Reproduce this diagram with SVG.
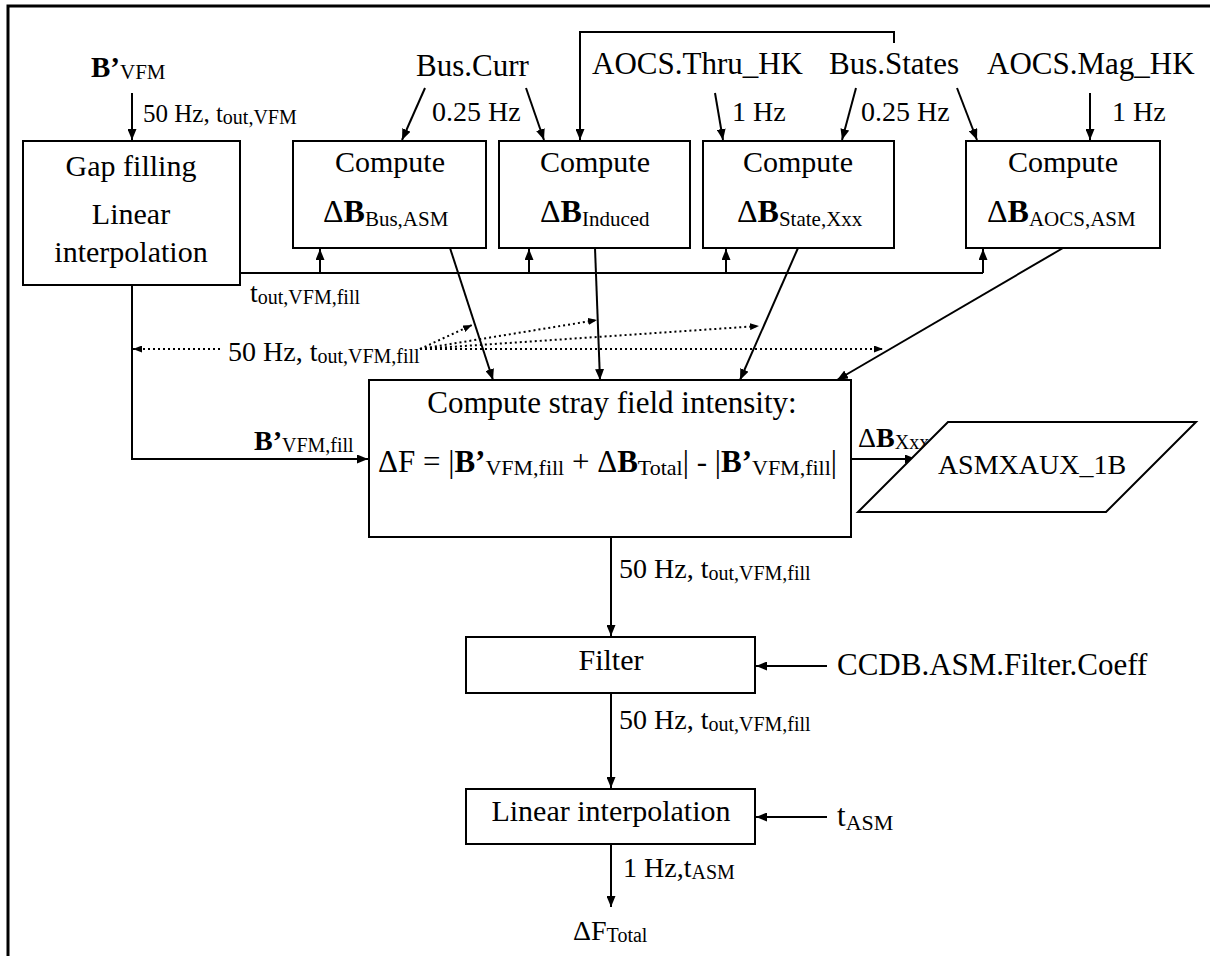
<svg xmlns="http://www.w3.org/2000/svg" width="1210" height="956" viewBox="0 0 1210 956">
<defs>
<style>
.t{font-family:"Liberation Serif","Times New Roman",serif;fill:#000}
.m{font-size:30px}
.l{font-size:28px}
.s{font-size:20px}
.b{font-weight:bold}
.box{fill:#fff;stroke:#000;stroke-width:2}
.ln{fill:none;stroke:#000;stroke-width:2}
.dot{fill:none;stroke:#000;stroke-width:2;stroke-dasharray:2 3}
</style>
<marker id="ah" markerUnits="userSpaceOnUse" markerWidth="11" markerHeight="9" refX="11" refY="4.5" orient="auto" viewBox="0 0 11 9">
<path d="M0,0 L11,4.5 L0,9 z" fill="#000"/>
</marker>
<marker id="ahs" markerUnits="userSpaceOnUse" markerWidth="9" markerHeight="7" refX="9" refY="3.5" orient="auto" viewBox="0 0 9 7">
<path d="M0,0 L9,3.5 L0,7 z" fill="#000"/>
</marker>
</defs>
<rect x="0" y="0" width="1210" height="956" fill="#fff"/>
<g id="frame"><path class="ln" style="stroke-width:3" d="M8,956 V6 H1210"/></g>

<g id="connectors">
<path class="ln" marker-end="url(#ah)" d="M132,93 V140"/>
<path class="ln" marker-end="url(#ah)" d="M425,88 L402,140"/>
<path class="ln" marker-end="url(#ah)" d="M526,88 L544,140"/>
<path class="ln" marker-end="url(#ah)" d="M894,43 V32 H580 V140"/>
<path class="ln" marker-end="url(#ah)" d="M715,93 L723,140"/>
<path class="ln" marker-end="url(#ah)" d="M856,88 L842,140"/>
<path class="ln" marker-end="url(#ah)" d="M957,88 L977,140"/>
<path class="ln" marker-end="url(#ah)" d="M1090,93 V140"/>
<path class="ln" d="M240,273 H983"/>
<path class="ln" marker-end="url(#ah)" d="M983,273 V249"/>
<path class="ln" marker-end="url(#ah)" d="M320,273 V249"/>
<path class="ln" marker-end="url(#ah)" d="M529,273 V249"/>
<path class="ln" marker-end="url(#ah)" d="M726,273 V249"/>
<path class="ln" marker-end="url(#ah)" d="M450,248 L493,380"/>
<path class="ln" marker-end="url(#ah)" d="M595,248 L600,380"/>
<path class="ln" marker-end="url(#ah)" d="M798,248 L740,380"/>
<path class="ln" marker-end="url(#ah)" d="M1063,248 L837,380"/>
<path class="ln" marker-end="url(#ah)" d="M132,285 V459 H368"/>
<path class="dot" marker-end="url(#ahs)" d="M220,349 H133"/>
<path class="dot" marker-end="url(#ahs)" d="M420,349 L472,325"/>
<path class="dot" marker-end="url(#ahs)" d="M420,349 L597,320"/>
<path class="dot" marker-end="url(#ahs)" d="M420,349 L759,326"/>
<path class="dot" marker-end="url(#ahs)" d="M420,349 L883,349"/>
<path class="ln" marker-end="url(#ah)" d="M851,459 H916"/>
<path class="ln" marker-end="url(#ah)" d="M611,537 V636"/>
<path class="ln" marker-end="url(#ah)" d="M827,666 H756"/>
<path class="ln" marker-end="url(#ah)" d="M611,693 V788"/>
<path class="ln" marker-end="url(#ah)" d="M827,817 H756"/>
<path class="ln" marker-end="url(#ah)" d="M611,844 V907"/>
</g>

<g id="connector-labels">
<text class="t" x="143" y="122" style="font-size:25px">50 Hz, t<tspan class="s" dy="2">out,VFM</tspan></text>
<text class="t l" x="432" y="121">0.25 Hz</text>
<text class="t l" x="732" y="121">1 Hz</text>
<text class="t l" x="861" y="121">0.25 Hz</text>
<text class="t l" x="1112" y="121">1 Hz</text>
<text class="t l" x="250" y="302">t<tspan class="s" dy="2">out,VFM,fill</tspan></text>
<text class="t l" x="228" y="361">50 Hz, t<tspan class="s" dy="2">out,VFM,fill</tspan></text>
<text class="t l" x="254" y="450"><tspan class="b">B’</tspan><tspan class="s" dy="2">VFM,fill</tspan></text>
<text class="t l" x="858" y="447">Δ<tspan class="b">B</tspan><tspan class="s" dy="2">Xxx</tspan></text>
<text class="t l" x="619" y="578">50 Hz, t<tspan class="s" dy="2">out,VFM,fill</tspan></text>
<text class="t l" x="619" y="729">50 Hz, t<tspan class="s" dy="2">out,VFM,fill</tspan></text>
<text class="t l" x="623" y="877">1 Hz,t<tspan class="s" dy="2">ASM</tspan></text>
</g>

<g id="in-bvfm"><text class="t" x="91" y="77" style="font-size:29px"><tspan class="b">B’</tspan><tspan style="font-size:21px" dy="2">VFM</tspan></text></g>
<g id="in-buscurr"><text class="t" x="416" y="76" style="font-size:31px">Bus.Curr</text></g>
<g id="in-thru"><text class="t" x="592" y="74" style="font-size:31px">AOCS.Thru_HK</text></g>
<g id="in-busstates"><text class="t" x="829" y="74" style="font-size:31px">Bus.States</text></g>
<g id="in-mag"><text class="t" x="987" y="74" style="font-size:31px">AOCS.Mag_HK</text></g>
<g id="in-ccdb"><text class="t" x="837" y="675" style="font-size:31px">CCDB.ASM.Filter.Coeff</text></g>
<g id="in-tasm"><text class="t" x="837" y="826" style="font-size:31px">t<tspan style="font-size:22px" dy="4">ASM</tspan></text></g>
<g id="out-dftotal"><text class="t l" x="573" y="940">ΔF<tspan class="s" dy="2">Total</tspan></text></g>

<g id="gap-filling">
<rect class="box" x="23" y="141" width="217" height="144"/>
<text class="t m" x="131" y="176" text-anchor="middle">Gap filling</text>
<text class="t m" x="131" y="224" text-anchor="middle">Linear</text>
<text class="t m" x="131" y="262" text-anchor="middle">interpolation</text>
</g>
<g id="compute-bus">
<rect class="box" x="293" y="141" width="193" height="107"/>
<text class="t m" x="390" y="172" text-anchor="middle">Compute</text>
<text class="t" x="323" y="222" style="font-size:32px">Δ<tspan class="b">B</tspan><tspan style="font-size:21px" dy="4">Bus,ASM</tspan></text>
</g>
<g id="compute-induced">
<rect class="box" x="499" y="141" width="191" height="107"/>
<text class="t m" x="595" y="172" text-anchor="middle">Compute</text>
<text class="t" x="540" y="222" style="font-size:32px">Δ<tspan class="b">B</tspan><tspan style="font-size:21px" dy="4">Induced</tspan></text>
</g>
<g id="compute-state">
<rect class="box" x="703" y="141" width="191" height="107"/>
<text class="t m" x="798" y="172" text-anchor="middle">Compute</text>
<text class="t" x="737" y="222" style="font-size:32px">Δ<tspan class="b">B</tspan><tspan style="font-size:21px" dy="4">State,Xxx</tspan></text>
</g>
<g id="compute-aocs">
<rect class="box" x="966" y="141" width="194" height="107"/>
<text class="t m" x="1063" y="172" text-anchor="middle">Compute</text>
<text class="t" x="987" y="222" style="font-size:32px">Δ<tspan class="b">B</tspan><tspan style="font-size:21px" dy="4">AOCS,ASM</tspan></text>
</g>
<g id="stray-field">
<rect class="box" x="369" y="380" width="482" height="157"/>
<text class="t" x="612" y="413" text-anchor="middle" style="font-size:31px">Compute stray field intensity:</text>
<text class="t" x="378" y="472" style="font-size:31px">ΔF = |<tspan class="b">B’</tspan><tspan style="font-size:22px" dy="3">VFM,fill</tspan><tspan dy="-3"> + Δ</tspan><tspan class="b">B</tspan><tspan style="font-size:22px" dy="3">Total</tspan><tspan dy="-3">| - |</tspan><tspan class="b">B’</tspan><tspan style="font-size:22px" dy="3">VFM,fill</tspan><tspan dy="-3">|</tspan></text>
</g>
<g id="asmxaux">
<path class="box" d="M948,422 H1196 L1106,512 H858 Z"/>
<text class="t" x="1032" y="474" text-anchor="middle" style="font-size:28px">ASMXAUX_1B</text>
</g>
<g id="filter">
<rect class="box" x="466" y="637" width="289" height="56"/>
<text class="t m" x="611" y="670" text-anchor="middle">Filter</text>
</g>
<g id="linear-interp">
<rect class="box" x="466" y="789" width="289" height="55"/>
<text class="t m" x="611" y="821" text-anchor="middle">Linear interpolation</text>
</g>
</svg>
